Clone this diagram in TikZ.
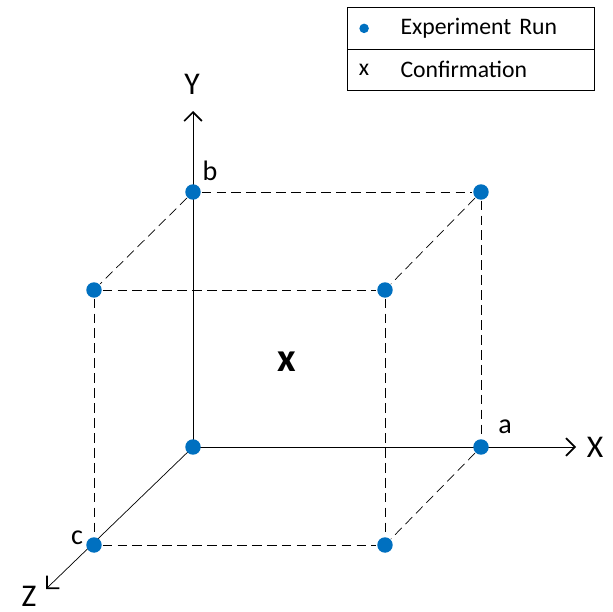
\documentclass[tikz,border=0pt]{standalone}
\usepackage{fontspec}
\setmainfont{Carlito}
\usetikzlibrary{matrix,arrows.meta,backgrounds}
\definecolor{runblue}{RGB}{0,112,192}

\begin{document}
\begin{tikzpicture}[x=0.02cm, y=-0.02cm, line width=1pt,
	run/.style={circle, fill=runblue, draw=none, inner sep=0pt, minimum size=0.31cm},
	edge/.style={dash pattern=on 5.5pt off 3pt},
	axis/.style={-{Straight Barb[length=5pt,width=10pt,line width=1pt]}},
	axislbl/.style={inner sep=0pt, font=\fontsize{18}{18}\selectfont},
	cornerlbl/.style={inner sep=0pt, font=\fontsize{16}{16}\selectfont}]
	\useasboundingbox (0,0) rectangle (613,612);
	\node[run] (O) at (193,447) {};
	\node[run] (A) at (481,447) {};
	\node[run] (B) at (193,192) {};
	\node[run] (AB) at (481,192) {};
	\node[run] (C) at (94,545) {};
	\node[run] (CA) at (385,545) {};
	\node[run] (CB) at (94,290) {};
	\node[run] (CAB) at (385,290) {};
	\coordinate (Xend) at (576,447);
	\coordinate (Yend) at (193,111);
	\coordinate (Zend) at (46,589);
	\node[axislbl] (Xlbl) at (595,447) {X};
	\node[axislbl] (Ylbl) at (192,84) {Y};
	\node[axislbl] (Zlbl) at (29,596) {Z};
	\node[cornerlbl] (alb) at (505,427) {a};
	\node[cornerlbl] (blb) at (210,171) {b};
	\node[cornerlbl] (clb) at (77,538) {c};
	\node[inner sep=0pt, font=\fontsize{23}{23}\selectfont\bfseries] (conf) at (287,362) {x};
	\begin{scope}[on background layer]
		\draw[axis] (O.center) -- (Xend);
		\draw[axis] (O.center) -- (Yend);
		\draw[axis] (O.center) -- (Zend);
		\draw[edge] (B) -- (AB);
		\draw[edge] (AB) -- (A);
		\draw[edge] (B) -- (CB);
		\draw[edge] (AB) -- (CAB);
		\draw[edge] (A) -- (CA);
		\draw[edge] (CB) -- (CAB);
		\draw[edge] (CB) -- (C);
		\draw[edge] (CAB) -- (CA);
		\draw[edge] (C) -- (CA);
	\end{scope}
	\matrix (leg) [matrix of nodes, draw, line width=0.7pt, inner sep=0pt, row sep=0pt, column sep=0pt, anchor=north west, nodes={minimum height=0.83cm, inner sep=0pt, anchor=center, font=\fontsize{13.5}{13.5}\selectfont}, column 1/.style={nodes={minimum width=0.66cm}}, column 2/.style={nodes={text width=3.48cm, inner xsep=0.4cm, align=left}}] at (347,7) {
		& Experiment Run \\
		x & Confirmation \\
	};
	\draw[line width=0.7pt] (leg.west |- leg-1-2.south) -- (leg.east |- leg-1-2.south);
	\node[run, minimum size=0.19cm] (legrun) at (leg-2-1 |- leg-1-2) {};
\end{tikzpicture}
\end{document}
